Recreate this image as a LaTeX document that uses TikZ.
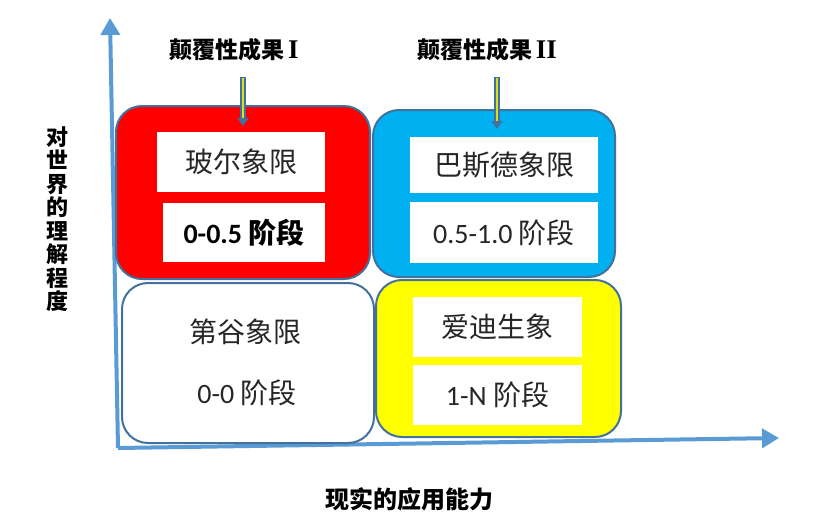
\documentclass[tikz,border=0pt]{standalone}
\usepackage{fontspec}
\setmainfont{Carlito}
\newfontfamily\cjk{Noto Sans CJK SC}
\newfontfamily\romnum{Liberation Serif}
\usetikzlibrary{arrows.meta}
\definecolor{axisblue}{HTML}{5B9BD5}
\definecolor{edge}{HTML}{41719C}
\definecolor{qred}{HTML}{FF0000}
\definecolor{qblue}{HTML}{00B0F0}
\definecolor{qyellow}{HTML}{FFFF00}
\definecolor{txt}{HTML}{262626}
\definecolor{arrowfill}{HTML}{D8E020}
\begin{document}
\begin{tikzpicture}[x=1pt,y=-1pt,
  quad/.style={draw=edge, line width=2pt, rounded corners=26pt, inner sep=0pt},
  inbox/.style={fill=white, inner sep=0pt, text=txt, font=\fontsize{28}{32}\selectfont},
  axisline/.style={draw=axisblue, line width=4pt, -{Triangle[length=17pt,width=19pt]}},
  ttl/.style={font=\fontsize{23}{26}\selectfont\bfseries, text=black},
  outer/.style={draw=edge, line width=5.5pt, -{Triangle[length=8pt,width=11pt]}},
  inner/.style={draw=arrowfill, line width=2.5pt, shorten >=8pt, shorten <=1pt}
]
\useasboundingbox (0,0) rectangle (828,530);

% axes
\coordinate (O) at (118,448);
\coordinate (Ytip) at (110,18);
\coordinate (Xtip) at (779,438);
\draw[axisline] (O) -- (Ytip);
\draw[axisline] (O) -- (Xtip);

% quadrants
\node[quad, fill=qred, minimum width=254pt, minimum height=173pt] (red) at (243,192.5) {};
\node[quad, fill=qblue, minimum width=242pt, minimum height=167pt] (blue) at (494,193.5) {};
\node[quad, fill=white, minimum width=252pt, minimum height=160pt] (wq) at (248,363) {};
\node[quad, fill=qyellow, minimum width=245pt, minimum height=157pt] (yq) at (498.5,358.5) {};

% inner boxes
\node[inbox, minimum width=168pt, minimum height=60pt] (r1) at (241,162) {\cjk 玻尔象限};
\node[inbox, minimum width=162pt, minimum height=59pt, font=\fontsize{28}{32}\selectfont\bfseries, text=black] (r2) at (244,232.5) {0-0.5 {\cjk 阶段}};
\node[inbox, minimum width=188pt, minimum height=56pt] (b1) at (504,165) {\cjk 巴斯德象限};
\node[inbox, minimum width=188pt, minimum height=61pt] (b2) at (504,232.5) {0.5-1.0 {\cjk 阶段}};
\node[inbox, minimum width=169pt, minimum height=60pt] (y1) at (497.5,327) {\cjk 爱迪生象};
\node[inbox, minimum width=169pt, minimum height=60pt] (y2) at (497.5,395) {1-N {\cjk 阶段}};
\node[text=txt, font=\fontsize{28}{32}\selectfont] (w1) at (245,332) {\cjk 第谷象限};
\node[text=txt, font=\fontsize{28}{32}\selectfont] (w2) at (247,393) {0-0 {\cjk 阶段}};

% titles
\node[ttl] (t1) at (234,50) {{\cjk 颠覆性成果}\,{\romnum\fontsize{27}{27}\selectfont I}};
\node[ttl] (t2) at (487,50) {{\cjk 颠覆性成果}\,{\romnum\fontsize{27}{27}\selectfont II}};

% small arrows
\coordinate (a1s) at (243,77);
\coordinate (a1e) at (243,126);
\coordinate (a2s) at (497,77);
\coordinate (a2e) at (497,129);
\draw[outer] (a1s) -- (a1e);
\draw[inner] (a1s) -- (a1e);
\draw[outer] (a2s) -- (a2e);
\draw[inner] (a2s) -- (a2e);

% axis labels
\node[font=\fontsize{22}{23.5}\selectfont\bfseries\cjk, align=center, inner sep=0pt] (ylab) at (57,219)
  {对\\世\\界\\的\\理\\解\\程\\度};
\node[font=\fontsize{24}{28}\selectfont\bfseries\cjk] (xlab) at (409,499) {现实的应用能力};
\end{tikzpicture}
\end{document}
